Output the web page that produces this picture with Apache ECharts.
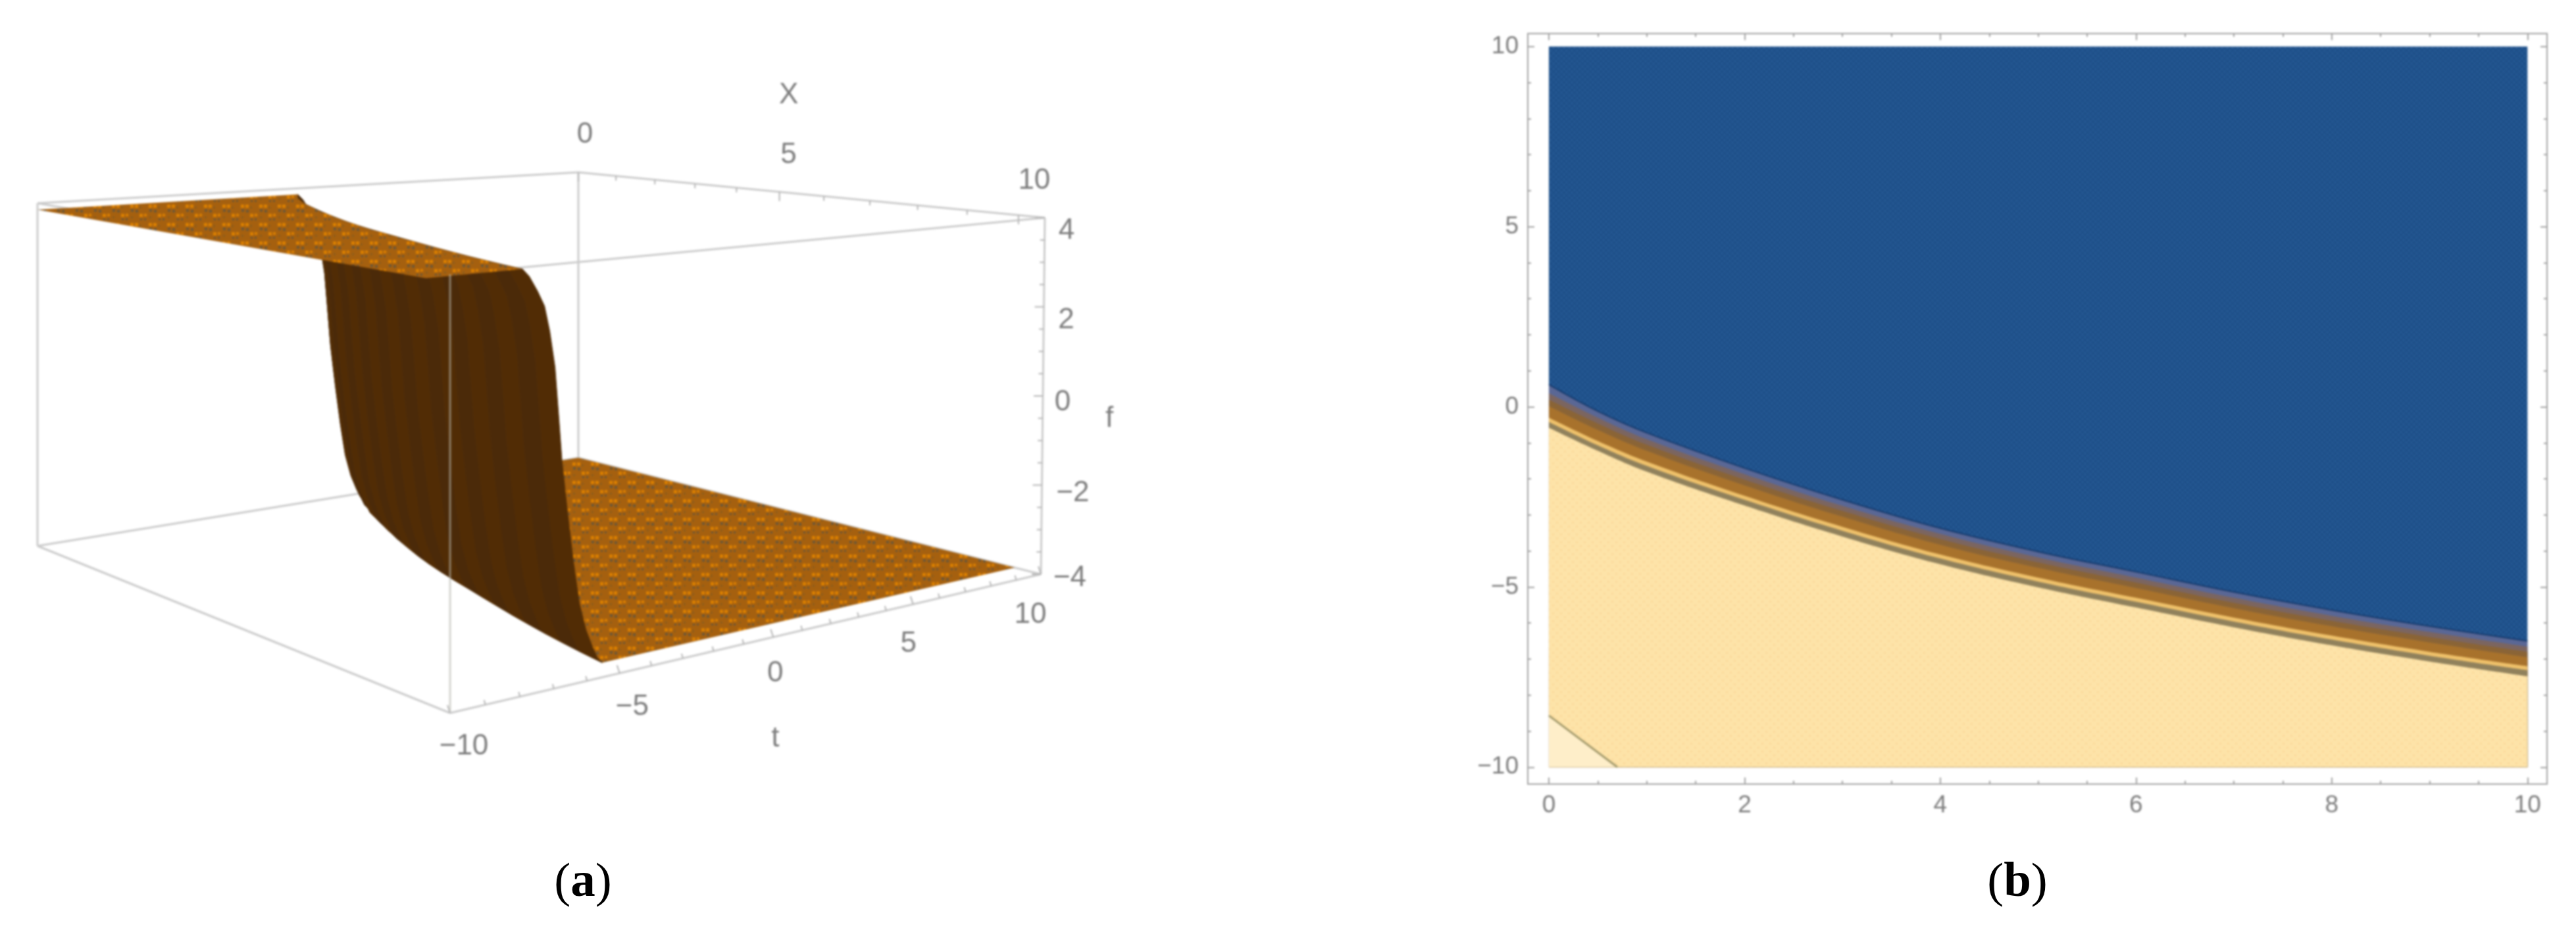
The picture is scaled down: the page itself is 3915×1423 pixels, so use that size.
<!DOCTYPE html>
<html>

<head>
    <meta charset="utf-8">
    <title>ECharts</title>
    <script src="https://cdn.jsdelivr.net/npm/echarts@6/dist/echarts.min.js"></script>
    <style>
        html, body { margin: 0; padding: 0; background: #fff; }
        #main, #caption { position: absolute; left: 0; top: 0; width: 3915px; height: 1423px; }
        /* the plots in the reference are soft, the captions are not */
        #main { filter: blur(1.4px); }
    </style>
</head>

<body>
    <div id="main"></div>
    <div id="caption"></div>
</body>
<script type="text/javascript">
    // panel (a): surface f(x, t)
    let xTicks = [0, 5, 10];
    let tTicks = [-10, -5, 0, 5, 10];
    let fTicks = [4, 2, 0, -2, -4];
    let tMinorTicks = [-9, -8, -7, -6, -4, -3, -2, -1, 1, 2, 3, 4, 6, 7, 8, 9];
    let xMinorTicks = [1, 2, 3, 4, 6, 7, 8, 9];
    let fMinorTicks = [3.5, 3, 2.5, 1.5, 1, 0.5, -0.5, -1, -1.5, -2.5, -3, -3.5];
    let ridgeX = [0, 0.5, 1, 1.5, 2, 2.5, 3, 3.5, 4, 4.5, 5, 5.5, 6, 6.5, 7, 7.5, 8, 8.5, 9, 9.5, 10];
    let ridgeT = [0.05, -0.58, -1.09, -1.55, -1.94, -2.32, -2.69, -3.03, -3.36, -3.66, -3.93, -4.18, -4.41, -4.65, -4.88, -5.11, -5.32, -5.52, -5.7, -5.87, -6.02];
    // wall cross section: t distance from the ridge and height there
    let wallDt = [-1.2, -1.0, -0.75, -0.54, -0.38, -0.22, -0.1, 0, 0.18, 0.36, 0.54, 0.75, 0.95, 1.1, 1.25];
    let wallF = [3.85, 3.7, 3.4, 3.1, 2.6, 1.9, 0.9, 0.05, -1, -1.95, -2.75, -3.3, -3.65, -3.88, -4];
    let topLevel = 3.85;
    let bottomLevel = -4;

    // panel (b): contour edges, each one is the upper limit of a colour band
    let contourX = [0, 0.5, 1, 2, 3, 4, 5, 6, 7, 8, 9, 10];
    let blueEdge = [0.62, -0.12, -0.72, -1.7, -2.58, -3.37, -4.02, -4.58, -5.14, -5.64, -6.09, -6.5];
    let lavenderEdge = [0.38, -0.3, -0.9, -1.87, -2.75, -3.53, -4.18, -4.74, -5.3, -5.8, -6.25, -6.66];
    let greyEdge = [0.2, -0.46, -1.05, -2.02, -2.89, -3.67, -4.32, -4.88, -5.44, -5.94, -6.39, -6.8];
    let umberEdge = [0.02, -0.64, -1.22, -2.18, -3.05, -3.83, -4.47, -5.03, -5.59, -6.09, -6.54, -6.95];
    let ochreEdge = [-0.3, -0.95, -1.52, -2.47, -3.33, -4.1, -4.74, -5.3, -5.85, -6.35, -6.8, -7.2];
    let paleEdge = [-0.42, -1.07, -1.64, -2.58, -3.44, -4.21, -4.85, -5.41, -5.96, -6.46, -6.91, -7.31];
    let creamEdge = [-0.58, -1.22, -1.8, -2.74, -3.6, -4.37, -5.01, -5.57, -6.12, -6.62, -7.07, -7.48];
    let cornerX = [0, 0.7];
    let cornerT = [-8.57, -10];
    let planeX = [0, 10];
    let planeT = [10, 10];
    let contourXLabels = [0, 2, 4, 6, 8, 10];
    let contourYLabels = [-10, -5, 0, 5, 10];
    let contourXMinor = [0.5, 1, 1.5, 2.5, 3, 3.5, 4.5, 5, 5.5, 6.5, 7, 7.5, 8.5, 9, 9.5];
    let contourYMinor = [-9, -8, -7, -6, -4, -3, -2, -1, 1, 2, 3, 4, 6, 7, 8, 9];

    // where the corners of the 3D box land in panel (a), w is the depth of the corner
    let boxX = [0, 10.5];
    let boxT = [-10, 10];
    let boxF = [-4, 4];
    let cornerL = { top: [57, 309], bottom: [57, 830], w: 1.242 };
    let cornerBack = { top: [879, 262], bottom: [879, 696], w: 1.45 };
    let cornerFront = { top: [684, 417], bottom: [684, 1084], w: 1 };
    let cornerR = { top: [1588, 331], bottom: [1582, 873], w: 1.208 };

    function project(x, t, f) {
        let a = (x - boxX[0]) / (boxX[1] - boxX[0]);
        let b = (t - boxT[0]) / (boxT[1] - boxT[0]);
        let c = (f - boxF[0]) / (boxF[1] - boxF[0]);
        let list = [
            [cornerL, (1 - a) * (1 - b)],
            [cornerBack, (1 - a) * b],
            [cornerFront, a * (1 - b)],
            [cornerR, a * b]
        ];
        let u = 0, v = 0, w = 0;
        list.forEach(function(item) {
            let k = item[1] * item[0].w;
            u += k * (item[0].bottom[0] * (1 - c) + item[0].top[0] * c);
            v += k * (item[0].bottom[1] * (1 - c) + item[0].top[1] * c);
            w += k;
        });
        return [u / w, v / w];
    }

    // mottled fill, the reference has a moire of dots on every flat area
    function dots(base, size, list) {
        let c = document.createElement('canvas');
        c.width = size;
        c.height = size;
        let ctx = c.getContext('2d');
        ctx.fillStyle = base;
        ctx.fillRect(0, 0, size, size);
        list.forEach(function(d) {
            ctx.fillStyle = d[3];
            ctx.fillRect(d[0], d[1], d[2], d[2]);
        });
        return { image: c, repeat: 'repeat' };
    }

    let orangeFill = dots('#a5600f', 28, [
        [2, 3, 5, '#dc8000'], [9, 3, 5, '#dc8000'], [16, 17, 5, '#dc8000'], [23, 17, 4, '#dc8000'],
        [3, 10, 4, '#6a5638'], [10, 11, 4, '#6a5638'], [17, 24, 3, '#6a5638'], [23, 24, 3, '#6a5638'],
        [16, 6, 3, '#8c5c1c'], [3, 21, 3, '#8c5c1c']
    ]);
    let blueFill = dots('#20528c', 8, [
        [0, 0, 2, '#2a5f9a'], [4, 4, 2, '#2a5f9a'], [4, 0, 2, '#1a4a82'], [0, 4, 2, '#1a4a82']
    ]);
    let creamFill = dots('#fde3a8', 12, [
        [1, 1, 3, '#fbd99b'], [7, 7, 3, '#fbd99b']
    ]);

    // one custom series for a list of shapes of panel (a)
    function shapeSeries(items, draw) {
        return {
            type: 'custom',
            xAxisIndex: 0,
            yAxisIndex: 0,
            clip: false,
            silent: true,
            data: items.map(function(item, i) { return [i, 0]; }),
            renderItem: function(params, api) {
                return draw(items[params.dataIndex], api, params.dataIndex);
            }
        };
    }

    function toScreen(api, p) {
        return api.coord(project(p[0], p[1], p[2]));
    }

    function edgeSeries(edges, color, width) {
        return shapeSeries(edges, function(e, api) {
            let a = toScreen(api, e[0]);
            let b = toScreen(api, e[1]);
            return {
                type: 'line',
                shape: { x1: a[0], y1: a[1], x2: b[0], y2: b[1] },
                style: { stroke: color, lineWidth: width }
            };
        });
    }

    function tickSeries(points, dx, dy) {
        return shapeSeries(points, function(p, api) {
            let a = toScreen(api, p);
            return {
                type: 'line',
                shape: { x1: a[0], y1: a[1], x2: a[0] + dx, y2: a[1] + dy },
                style: { stroke: '#b5b5b5', lineWidth: 2 }
            };
        });
    }

    function textSeries(items) {
        return shapeSeries(items, function(item, api) {
            let a = toScreen(api, item.at);
            return {
                type: 'text',
                style: {
                    x: a[0] + item.off[0],
                    y: a[1] + item.off[1],
                    text: String(item.text).replace('-', '\u2212'),
                    textAlign: 'center',
                    textVerticalAlign: 'middle',
                    fontSize: 44,
                    fontFamily: 'Liberation Sans',
                    fill: '#7c7c7c'
                }
            };
        });
    }

    let xMax = boxX[1], tMin = boxT[0], tMax = boxT[1], fMin = boxF[0], fMax = boxF[1];

    let backEdges = [
        [[0, tMin, fMax], [0, tMax, fMax]],
        [[0, tMax, fMax], [xMax, tMax, fMax]],
        [[xMax, tMin, fMax], [xMax, tMax, fMax]],
        [[0, tMin, fMax], [xMax, tMin, fMax]],
        [[0, tMin, fMin], [0, tMin, fMax]],
        [[0, tMax, fMin], [0, tMax, fMax]],
        [[xMax, tMax, fMin], [xMax, tMax, fMax]],
        [[0, tMin, fMin], [0, tMax, fMin]],
        [[0, tMax, fMin], [xMax, tMax, fMin]]
    ];
    let frontEdges = [
        [[0, tMin, fMin], [xMax, tMin, fMin]],
        [[xMax, tMin, fMin], [xMax, tMax, fMin]]
    ];
    let frontPost = [
        [[xMax, tMin, fMin], [xMax, tMin, fMax]]
    ];

    // flat parts of the surface
    let lowPlate = ridgeX.map(function(x, i) {
        return [x, ridgeT[i] + wallDt[wallDt.length - 1], bottomLevel];
    }).concat([[10, 10, bottomLevel], [0, 10, bottomLevel]]);
    let highPlate = [[0, -10, topLevel]].concat(ridgeX.map(function(x, i) {
        return [x, ridgeT[i] + wallDt[0], topLevel];
    })).concat([[10, -10, topLevel]]);

    function plateSeries(points) {
        return shapeSeries([points], function(list, api) {
            return {
                type: 'polygon',
                shape: { points: list.map(function(p) { return toScreen(api, p); }) },
                style: { fill: orangeFill }
            };
        });
    }

    // the steep wall, one strip for each step along the ridge
    let wallStrips = ridgeX.slice(1).map(function(x, i) { return i; });
    let wallSeries = shapeSeries(wallStrips, function(i, api) {
        let pts = [];
        wallDt.forEach(function(dt, j) {
            pts.push(toScreen(api, [ridgeX[i], ridgeT[i] + dt, wallF[j]]));
        });
        for (let j = wallDt.length - 1; j >= 0; j--) {
            pts.push(toScreen(api, [ridgeX[i + 1], ridgeT[i + 1] + wallDt[j], wallF[j]]));
        }
        let color = i % 2 ? '#512c05' : '#4b2a09';
        return {
            type: 'polygon',
            shape: { points: pts },
            style: { fill: color, stroke: color, lineWidth: 1 }
        };
    });

    let labelItems = [
        { text: 0, at: [0, tMax, fMax], off: [10, -57] },
        { text: 5, at: [5, tMax, fMax], off: [14, -56] },
        { text: 10, at: [10, tMax, fMax], off: [24, -52] },
        { text: 'X', at: [5, tMax, fMax], off: [14, -147] },
        { text: -10, at: [xMax, -10, fMin], off: [21, 51] },
        { text: -5, at: [xMax, -5, fMin], off: [19, 51] },
        { text: 0, at: [xMax, 0, fMin], off: [3, 55] },
        { text: 5, at: [xMax, 5, fMin], off: [-7, 60] },
        { text: 10, at: [xMax, 10, fMin], off: [-16, 62] },
        { text: 't', at: [xMax, 0, fMin], off: [3, 154] },
        { text: 4, at: [xMax, tMax, 4], off: [33, 20] },
        { text: 2, at: [xMax, tMax, 2], off: [34, 20] },
        { text: 0, at: [xMax, tMax, 0], off: [30, 10] },
        { text: -2, at: [xMax, tMax, -2], off: [47, 12] },
        { text: -4, at: [xMax, tMax, -4], off: [44, 6] },
        { text: 'f', at: [xMax, tMax, 0], off: [101, 35] }
    ];

    function band(xs, ts, fill, edgeColor, edgeWidth) {
        return {
            type: 'line',
            xAxisIndex: 1,
            yAxisIndex: 1,
            showSymbol: false,
            silent: true,
            smooth: 0.4,
            lineStyle: { color: edgeColor || fill, width: edgeWidth || 0 },
            areaStyle: { color: fill, opacity: 1, origin: -10 },
            data: xs.map(function(x, i) { return [x, ts[i]]; })
        };
    }

    let axisGrey = '#a0a0a0';
    let contourXRange = { min: -0.215, max: 10.2 };
    let contourYRange = { min: -10.47, max: 10.36 };

    function minusLabel(v) {
        return String(v).replace('-', '\u2212');
    }

    // frame of panel (b): bottom and left carry labels, minor ticks need their own axis
    function frameAxis(range, position, major, minor, withLabel, isMinor) {
        return {
            type: 'value',
            gridIndex: 1,
            position: position,
            min: range.min,
            max: range.max,
            axisLine: { show: true, onZero: false, lineStyle: { color: axisGrey, width: 2 } },
            axisTick: {
                show: true,
                inside: true,
                length: isMinor ? 5 : 10,
                customValues: isMinor ? minor : major,
                lineStyle: { color: axisGrey, width: 2 }
            },
            axisLabel: withLabel ? {
                show: true,
                customValues: major,
                margin: 14,
                fontSize: 37,
                fontFamily: 'Liberation Sans',
                color: '#7c7c7c',
                formatter: minusLabel
            } : { show: false },
            splitLine: { show: false }
        };
    }

    let captionRich = {
        n: { fontFamily: 'Liberation Serif', fontSize: 75, fontWeight: 'normal', color: '#000' },
        b: { fontFamily: 'Liberation Serif', fontSize: 75, fontWeight: 'bold', color: '#000' }
    };

    let caption = echarts.init(document.getElementById('caption'));
    caption.setOption({
        animation: false,
        title: [
            { text: '{n|(}{b|a}{n|)}', left: 881, top: 1338, textAlign: 'center', textVerticalAlign: 'middle', textStyle: { rich: captionRich } },
            { text: '{n|(}{b|b}{n|)}', left: 3061, top: 1338, textAlign: 'center', textVerticalAlign: 'middle', textStyle: { rich: captionRich } }
        ]
    });

    let chart = echarts.init(document.getElementById('main'));
    chart.setOption({
        animation: false,
        backgroundColor: '#fff',
        grid: [
            { left: 0, top: 0, width: 1900, height: 1250, show: false },
            { left: 2322, top: 51, width: 1549, height: 1141 }
        ],
        xAxis: [
            { type: 'value', gridIndex: 0, min: 0, max: 1900, show: false },
            frameAxis(contourXRange, 'bottom', contourXLabels, contourXMinor, true, false),
            frameAxis(contourXRange, 'top', contourXLabels, contourXMinor, false, false),
            frameAxis(contourXRange, 'bottom', contourXLabels, contourXMinor, false, true),
            frameAxis(contourXRange, 'top', contourXLabels, contourXMinor, false, true)
        ],
        yAxis: [
            { type: 'value', gridIndex: 0, min: 0, max: 1250, inverse: true, show: false },
            frameAxis(contourYRange, 'left', contourYLabels, contourYMinor, true, false),
            frameAxis(contourYRange, 'right', contourYLabels, contourYMinor, false, false),
            frameAxis(contourYRange, 'left', contourYLabels, contourYMinor, false, true),
            frameAxis(contourYRange, 'right', contourYLabels, contourYMinor, false, true)
        ],
        series: [
            edgeSeries(backEdges, '#cbcbcb', 3),
            tickSeries(xTicks.map(function(x) { return [x, tMax, fMax]; }), 0, 14),
            tickSeries(xMinorTicks.map(function(x) { return [x, tMax, fMax]; }), 0, 7),
            plateSeries(lowPlate),
            wallSeries,
            plateSeries(highPlate),
            edgeSeries(frontPost, 'rgba(185,185,175,0.6)', 3),
            edgeSeries(frontEdges, '#cbcbcb', 3),
            tickSeries(tTicks.map(function(t) { return [xMax, t, fMin]; }), -4, -12),
            tickSeries(tMinorTicks.map(function(t) { return [xMax, t, fMin]; }), -2, -7),
            tickSeries(fTicks.map(function(f) { return [xMax, tMax, f]; }), -14, 0),
            tickSeries(fMinorTicks.map(function(f) { return [xMax, tMax, f]; }), -7, 0),
            textSeries(labelItems),
            band(planeX, planeT, blueFill),
            band(contourX, blueEdge, '#5a6795', '#163a6c', 2),
            band(contourX, lavenderEdge, '#7b6560'),
            band(contourX, greyEdge, '#8a6436'),
            band(contourX, umberEdge, '#a8722c'),
            band(contourX, ochreEdge, '#efc16a'),
            band(contourX, paleEdge, '#90815c'),
            band(contourX, creamEdge, creamFill),
            band(cornerX, cornerT, '#feeec9', '#a39a6c', 3)
        ]
    });
</script>

</html>
